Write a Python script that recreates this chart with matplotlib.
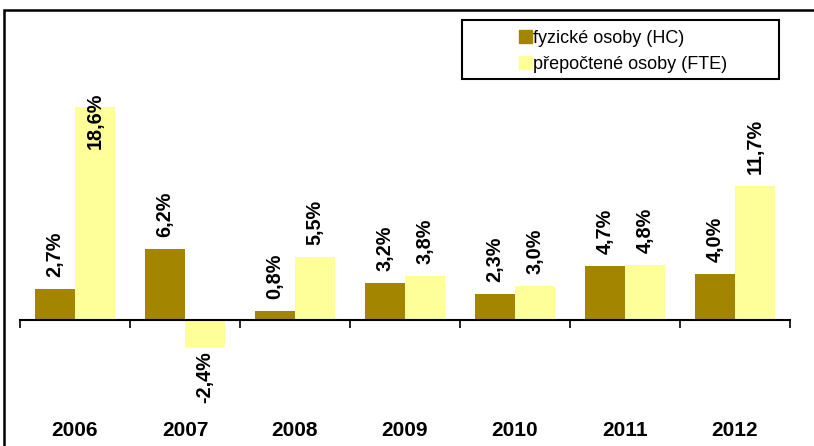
import matplotlib
matplotlib.use("Agg")
import matplotlib.pyplot as plt
from matplotlib.patches import Rectangle
import numpy as np

years = ["2006", "2007", "2008", "2009", "2010", "2011", "2012"]
hc = [2.7, 6.2, 0.8, 3.2, 2.3, 4.7, 4.0]
fte = [18.6, -2.4, 5.5, 3.8, 3.0, 4.8, 11.7]
series_names = ["fyzické osoby (HC)", "přepočtené osoby (FTE)"]

HC_COLOR = "#A38500"
FTE_COLOR = "#FFFF99"
FONT = "Liberation Sans"
LBL_SIZE = 14.3

W, H, DPI = 814, 446, 100
fig = plt.figure(figsize=(W / DPI, H / DPI), dpi=DPI)

# outer chart frame (right and bottom run off the picture)
fig.patches.append(Rectangle((4 / W, -0.2), 1.2, 1.2 - 10 / H,
                             transform=fig.transFigure, fill=False,
                             edgecolor="black", lw=1.8))

ax = fig.add_axes([20 / W, 0, 770 / W, 436 / H])
ax.patch.set_alpha(0)
px_per_unit = 11.45
ax.set_ylim(-126 / px_per_unit, 310 / px_per_unit)
ax.set_xlim(-0.5, len(years) - 0.5)

x = np.arange(len(years))
bw = 0.365
ax.bar(x - bw / 2, hc, bw, color=HC_COLOR, lw=0)
ax.bar(x + bw / 2, fte, bw, color=FTE_COLOR, lw=0)

# value labels, rotated like the original; clamp the tallest one under the top
label_top = 19.9
label_len = 56 / px_per_unit
for xs, vals in ((x - bw / 2, hc), (x + bw / 2, fte)):
    for xi, v in zip(xs, vals):
        txt = f"{v:.1f}%".replace(".", ",")
        kw = dict(rotation=90, ha="center", fontsize=LBL_SIZE,
                  fontweight="bold", family=FONT)
        if v < 0:
            ax.annotate(txt, (xi, v), xytext=(0, -4), textcoords="offset pixels",
                        va="top", **kw)
        elif v + 12 / px_per_unit + label_len > label_top:
            ax.text(xi, label_top, txt, va="top", **kw)
        else:
            ax.annotate(txt, (xi, v), xytext=(0, 12), textcoords="offset pixels",
                        va="bottom", **kw)

# category axis drawn at zero, year labels low at the bottom
for s in ("top", "right", "left"):
    ax.spines[s].set_visible(False)
ax.spines["bottom"].set_position(("data", 0))
ax.spines["bottom"].set_linewidth(1.5)
ax.set_yticks([])
ax.set_xticks(x)
ax.set_xticklabels(years, fontsize=15, fontweight="bold", family=FONT)
ax.tick_params(axis="x", which="major", length=0, pad=73)
ax.set_xticks(np.arange(len(years) + 1) - 0.5, minor=True)
ax.tick_params(axis="x", which="minor", length=6, width=1.2, direction="out")

# legend box in the Excel style
fig.patches.append(Rectangle((462 / W, 1 - 79 / H), 317 / W, 59 / H,
                             transform=fig.transFigure, fill=False,
                             edgecolor="black", lw=1.5))
handles = [Rectangle((0, 0), 1, 1, color=HC_COLOR),
           Rectangle((0, 0), 1, 1, color=FTE_COLOR)]
fig.legend(handles, series_names, loc="upper left",
           bbox_to_anchor=(510 / W, 1 - 21 / H), frameon=False,
           prop={"family": FONT, "size": 13}, handlelength=0.7,
           handleheight=0.7, handletextpad=0.1, labelspacing=0.5,
           borderpad=0)

fig.savefig("out.png", dpi=DPI, facecolor="white")
